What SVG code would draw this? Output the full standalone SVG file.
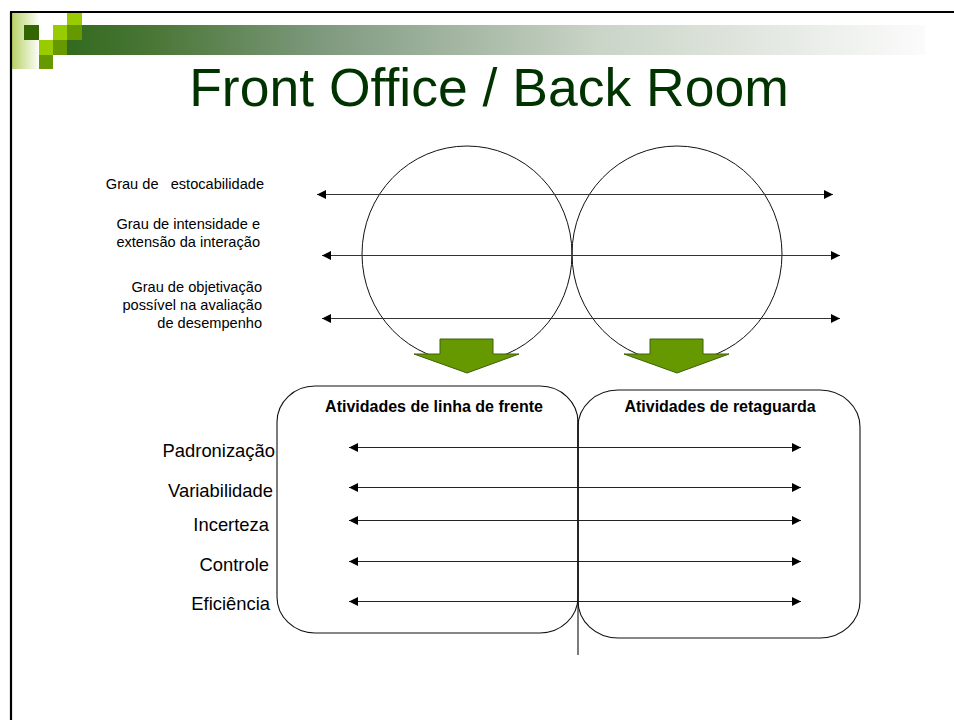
<svg xmlns="http://www.w3.org/2000/svg" width="954" height="720" viewBox="0 0 954 720">
<style>
.lbl{font-family:"Liberation Sans",Arial,sans-serif;fill:#000}
.sm{font-size:14.6px}
.md{font-size:18.4px}
.bd{font-size:16px;font-weight:bold}
.ax{stroke:#333;stroke-width:1.2;fill:none}
.ax2{stroke:#222;stroke-width:1.1;fill:none}
.circ{fill:none;stroke:#111;stroke-width:1}
.box{fill:none;stroke:#111;stroke-width:1.1}
.garrow{fill:#669900;stroke:#3f5f10;stroke-width:1}
</style>
<defs>
<linearGradient id="hdr" x1="67" y1="0" x2="925" y2="0" gradientUnits="userSpaceOnUse">
<stop offset="0" stop-color="#336a1f"/>
<stop offset="0.1" stop-color="#4a7636"/>
<stop offset="0.3" stop-color="#7f9a7f"/>
<stop offset="0.62" stop-color="#cad4c7"/>
<stop offset="1" stop-color="#fbfbfb"/>
</linearGradient>
<linearGradient id="edge" x1="11" y1="0" x2="40" y2="0" gradientUnits="userSpaceOnUse">
<stop offset="0" stop-color="#b4d060"/>
<stop offset="1" stop-color="#ffffff"/>
</linearGradient>
<marker id="ah" viewBox="0 0 10 10" refX="10" refY="5" markerWidth="9" markerHeight="9" markerUnits="userSpaceOnUse" orient="auto-start-reverse">
<path d="M0,0 L10,5 L0,10 z" fill="#000"/>
</marker>
</defs>
<rect width="954" height="720" fill="#fff"/>
<g id="frame">
<rect x="11" y="13" width="29" height="56" fill="url(#edge)"/>
<rect x="67" y="25" width="858" height="30" fill="url(#hdr)"/>
<rect x="67" y="13" width="15" height="12" fill="#99cc00"/>
<rect x="24" y="25" width="15" height="15" fill="#336600"/>
<rect x="53" y="25" width="14" height="15" fill="#99cc00"/>
<rect x="67" y="25" width="15" height="15" fill="#669900"/>
<rect x="39" y="40" width="14" height="15" fill="#99cc00"/>
<rect x="53" y="40" width="14" height="15" fill="#669900"/>
<rect x="39" y="55" width="14" height="14" fill="#669900"/>
<line x1="10" y1="12" x2="954" y2="12" stroke="#000" stroke-width="2"/>
<line x1="11" y1="12" x2="11" y2="720" stroke="#000" stroke-width="2.2"/>
</g>
<text id="title" x="489" y="106" text-anchor="middle" font-family="'Liberation Sans',Arial,sans-serif" font-size="53.5" fill="#003300">Front Office / Back Room</text>
<g id="circle-left"><ellipse class="circ" cx="467" cy="254" rx="105" ry="108"/></g>
<g id="circle-right"><ellipse class="circ" cx="677" cy="254" rx="105" ry="108"/></g>
<g id="top-labels">
<text class="lbl sm" x="264" y="189" text-anchor="end" style="white-space:pre">Grau de   estocabilidade</text>
<text class="lbl sm" x="260" y="229" text-anchor="end">Grau de intensidade e</text>
<text class="lbl sm" x="260" y="247" text-anchor="end">extensão da interação</text>
<text class="lbl sm" x="262" y="292" text-anchor="end">Grau de objetivação</text>
<text class="lbl sm" x="262" y="310" text-anchor="end">possível na avaliação</text>
<text class="lbl sm" x="262" y="328" text-anchor="end">de desempenho</text>
</g>
<g id="box-front">
<rect class="box" x="277" y="386" width="301" height="247" rx="38" ry="36"/>
<text class="lbl bd" x="434" y="412" text-anchor="middle">Atividades de linha de frente</text>
</g>
<g id="box-back">
<rect class="box" x="578" y="390" width="282" height="248" rx="40" ry="37"/>
<text class="lbl bd" x="720" y="412" text-anchor="middle">Atividades de retaguarda</text>
</g>
<g id="bottom-labels">
<text class="lbl md" x="275" y="457" text-anchor="end">Padronização</text>
<text class="lbl md" x="273" y="497" text-anchor="end">Variabilidade</text>
<text class="lbl md" x="269" y="531" text-anchor="end">Incerteza</text>
<text class="lbl md" x="269" y="571" text-anchor="end">Controle</text>
<text class="lbl md" x="270" y="610" text-anchor="end">Eficiência</text>
</g>
<g id="connectors">
<line class="ax" x1="317" y1="194.5" x2="833" y2="194.5" marker-start="url(#ah)" marker-end="url(#ah)"/>
<line class="ax" x1="322" y1="255.5" x2="840" y2="255.5" marker-start="url(#ah)" marker-end="url(#ah)"/>
<line class="ax" x1="322" y1="318.5" x2="840" y2="318.5" marker-start="url(#ah)" marker-end="url(#ah)"/>
<line class="ax2" x1="349" y1="447.5" x2="801" y2="447.5" marker-start="url(#ah)" marker-end="url(#ah)"/>
<line class="ax2" x1="349" y1="487.5" x2="801" y2="487.5" marker-start="url(#ah)" marker-end="url(#ah)"/>
<line class="ax2" x1="349" y1="520.5" x2="801" y2="520.5" marker-start="url(#ah)" marker-end="url(#ah)"/>
<line class="ax2" x1="349" y1="561.5" x2="801" y2="561.5" marker-start="url(#ah)" marker-end="url(#ah)"/>
<line class="ax2" x1="349" y1="601.5" x2="801" y2="601.5" marker-start="url(#ah)" marker-end="url(#ah)"/>
<line class="box" x1="578" y1="420" x2="578" y2="655"/>
</g>
<g id="arrow-left"><polygon class="garrow" points="440,339 493,339 493,354 519,354 467,373 414,354 440,354"/></g>
<g id="arrow-right"><polygon class="garrow" points="650,339 703,339 703,354 729,354 677,373 624,354 650,354"/></g>
</svg>
